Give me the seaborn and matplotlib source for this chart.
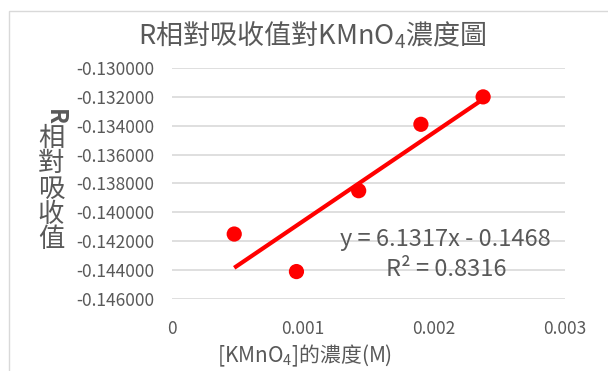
import matplotlib
matplotlib.use("Agg")
import matplotlib.pyplot as plt
from matplotlib.patches import Rectangle
import numpy as np
import pandas as pd
import seaborn as sns

# values
concentration = [0.000475, 0.00095, 0.001425, 0.0019, 0.002375]
rel_absorbance = [-0.1415, -0.1441, -0.1385, -0.1339, -0.1320]
x_ticks = [0, 0.001, 0.002, 0.003]
x_tick_labels = ["0", "0.001", "0.002", "0.003"]
y_ticks = [-0.146, -0.144, -0.142, -0.140, -0.138, -0.136, -0.134, -0.132, -0.130]
equation_text = "y = 6.1317x - 0.1468"
r2_text = "R² = 0.8316"

df = pd.DataFrame({"conc": concentration, "absorb": rel_absorbance})

sns.set_style("white")
plt.rcParams["font.family"] = ["Noto Sans CJK TC", "DejaVu Sans"]
plt.rcParams["mathtext.fontset"] = "custom"
plt.rcParams["mathtext.rm"] = "Noto Sans CJK TC"
plt.rcParams["mathtext.it"] = "Noto Sans CJK TC"
plt.rcParams["mathtext.default"] = "regular"

grey = "#595959"
red = "#ff0000"

fig = plt.figure(figsize=(6.08, 3.71), dpi=100)
ax = fig.add_axes([172 / 608, 1 - 299 / 371, (565 - 172) / 608, (299 - 68) / 371])

# chart border
fig.patches.append(Rectangle((9 / 608, -0.1), 1.2, 1 - 11 / 371 + 0.1,
                             transform=fig.transFigure, fill=False,
                             edgecolor="#d9d9d9", linewidth=1.0))

sns.regplot(data=df, x="conc", y="absorb", ax=ax, scatter=False, ci=None,
            truncate=True, line_kws={"color": red, "linewidth": 3, "solid_capstyle": "butt"})
sns.scatterplot(data=df, x="conc", y="absorb", ax=ax, color=red, s=120,
                edgecolor="none", zorder=3)

ax.set_xlim(0, 0.003)
ax.set_ylim(-0.146, -0.130)
ax.set_xticks(x_ticks)
ax.set_xticklabels(x_tick_labels)
ax.set_yticks(y_ticks)
ax.set_yticklabels([f"{v:.6f}" for v in y_ticks])
ax.yaxis.grid(True, color="#d9d9d9", linewidth=1.2)
ax.xaxis.grid(False)
for s in ax.spines.values():
    s.set_visible(False)
ax.tick_params(axis="both", colors=grey, labelsize=12.5, length=0)
ax.tick_params(axis="y", pad=13)
ax.tick_params(axis="x", pad=15)
ax.set_xlabel("")
ax.set_ylabel("")

fig.text(312 / 608, 1 - 35 / 371, "R相對吸收值對KMnO$_4$濃度圖", ha="center", va="center",
         fontsize=19.5, color=grey)
fig.text(305 / 608, 1 - 356 / 371, "[KMnO$_4$]的濃度(M)", ha="center", va="center",
         fontsize=15, color=grey)
# stacked vertical y label, Excel style
fig.text(55 / 608, 1 - 117 / 371, "R", ha="center", va="center", rotation=-90,
         fontsize=17, color=grey, fontweight="bold")
fig.text(51 / 608, 1 - 189 / 371, "相\n對\n吸\n收\n值", ha="center", va="center",
         fontsize=19, color=grey, linespacing=0.92)

ax.text(0.00209, -0.14191, equation_text, ha="center", va="center", fontsize=17, color=grey)
ax.text(0.00209, -0.14399, r2_text, ha="center", va="center", fontsize=17, color=grey)

fig.savefig("out.png", dpi=100)
